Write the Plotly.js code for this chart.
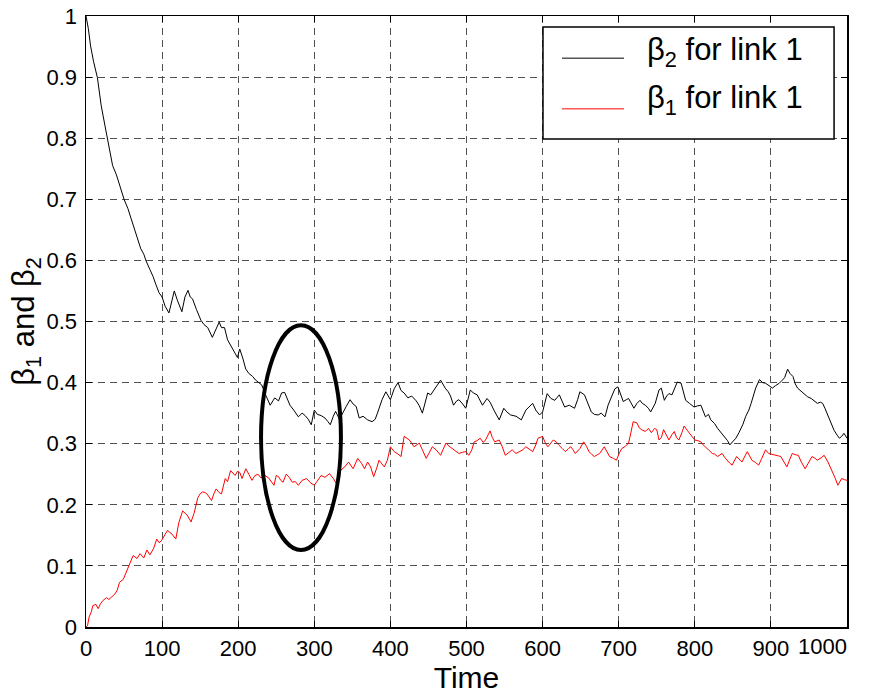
<!DOCTYPE html>
<html>
<head>
<meta charset="utf-8">
<script src="https://cdn.plot.ly/plotly-3.0.1.min.js"></script>
<style>html,body{margin:0;padding:0;background:#fff;}#chart{width:873px;height:697px;}</style>
</head>
<body>
<div id="chart"></div>
<script>
// beta2 for link 1 (black)
const beta2Time = [0,3,6,10,15,20,25,28,35,40,45,50,55,61,66,72,76,79,84,88,92,96,100,104,109,113,116,120,126,130,134,137,140,145,151,155,160,166,170,175,178,182,186,190,195,199,202,206,210,214,219,223,227,231,236,242,246,248,253,257,261,265,268,273,279,284,288,292,296,300,304,309,314,318,321,325,328,333,337,342,347,351,355,359,364,370,376,380,383,389,394,400,405,410,414,418,423,428,434,438,442,446,449,453,457,461,466,472,476,479,483,487,490,495,499,505,509,514,518,521,527,531,536,540,543,549,553,558,565,572,578,582,587,591,596,600,606,611,616,622,625,629,635,642,646,649,655,660,664,668,673,677,682,686,690,695,699,703,706,710,713,717,720,724,728,731,735,739,742,748,753,756,760,763,766,770,773,777,782,785,788,793,799,804,808,814,818,821,826,830,835,839,843,846,850,854,858,863,867,871,874,877,880,885,889,893,897,902,906,911,915,918,922,925,929,932,935,940,944,948,953,957,961,965,968,971,974,979,983,987,990,993,996,1000];
const beta2Value = [1.0,0.98,0.951,0.925,0.899,0.853,0.82,0.80,0.755,0.74,0.72,0.70,0.685,0.662,0.64,0.619,0.61,0.599,0.585,0.574,0.56,0.547,0.54,0.525,0.514,0.535,0.55,0.535,0.516,0.54,0.551,0.54,0.537,0.52,0.502,0.495,0.49,0.474,0.485,0.499,0.49,0.49,0.47,0.46,0.45,0.441,0.455,0.44,0.422,0.415,0.41,0.404,0.40,0.396,0.38,0.363,0.371,0.375,0.37,0.383,0.384,0.372,0.363,0.355,0.344,0.35,0.346,0.34,0.331,0.355,0.348,0.346,0.342,0.336,0.331,0.345,0.353,0.34,0.35,0.361,0.372,0.365,0.361,0.342,0.345,0.339,0.336,0.34,0.35,0.372,0.385,0.372,0.39,0.40,0.387,0.383,0.375,0.378,0.37,0.362,0.35,0.368,0.383,0.38,0.388,0.395,0.404,0.391,0.385,0.378,0.363,0.37,0.372,0.365,0.358,0.388,0.383,0.38,0.37,0.363,0.374,0.368,0.355,0.345,0.339,0.358,0.352,0.347,0.345,0.339,0.355,0.36,0.366,0.355,0.347,0.352,0.382,0.374,0.371,0.38,0.37,0.36,0.363,0.358,0.372,0.385,0.38,0.365,0.352,0.348,0.347,0.35,0.344,0.363,0.375,0.39,0.393,0.38,0.369,0.372,0.374,0.365,0.358,0.366,0.371,0.366,0.363,0.358,0.352,0.366,0.388,0.391,0.371,0.378,0.382,0.38,0.39,0.401,0.399,0.385,0.371,0.366,0.36,0.362,0.363,0.344,0.348,0.339,0.333,0.325,0.318,0.311,0.305,0.298,0.304,0.309,0.318,0.331,0.345,0.355,0.366,0.38,0.391,0.405,0.40,0.399,0.396,0.391,0.395,0.399,0.404,0.408,0.422,0.415,0.41,0.398,0.391,0.386,0.382,0.377,0.374,0.37,0.366,0.368,0.366,0.358,0.349,0.335,0.322,0.314,0.309,0.312,0.317,0.309];

// beta1 for link 1 (red)
const beta1Time = [0,2,4,7,9,13,16,19,22,27,30,33,38,41,44,49,53,58,62,67,71,76,80,84,89,93,96,99,103,107,110,113,118,122,127,130,133,138,142,147,150,153,157,160,165,168,171,175,178,183,186,190,193,196,199,202,205,210,214,218,222,226,230,235,240,244,247,250,253,256,259,263,267,271,275,279,284,290,295,300,305,309,314,320,325,329,335,340,345,351,357,362,366,370,374,378,382,385,392,396,400,405,410,414,418,422,425,431,438,442,447,451,455,460,466,469,473,477,481,486,490,495,499,503,507,510,514,518,522,525,531,534,537,543,547,551,556,560,565,569,574,578,583,587,591,594,600,604,607,611,614,618,621,626,630,634,637,640,643,649,654,658,661,665,668,672,675,681,685,688,693,697,701,704,709,713,716,719,724,727,730,735,739,743,747,750,753,756,759,763,766,770,773,776,779,783,786,790,793,797,800,804,808,811,814,818,823,826,830,833,836,839,842,846,849,852,855,858,862,866,869,872,875,880,884,888,893,897,902,906,910,913,917,921,925,928,932,936,940,945,949,954,958,961,966,970,975,980,984,988,991,993,997,1000];
const beta1Value = [0,0.002,0.016,0.025,0.035,0.037,0.03,0.038,0.043,0.048,0.045,0.048,0.054,0.06,0.073,0.078,0.09,0.106,0.117,0.112,0.12,0.113,0.126,0.118,0.129,0.144,0.138,0.141,0.15,0.158,0.155,0.152,0.144,0.171,0.19,0.186,0.183,0.172,0.186,0.212,0.218,0.221,0.22,0.216,0.207,0.218,0.226,0.22,0.218,0.243,0.238,0.256,0.252,0.248,0.255,0.253,0.243,0.259,0.25,0.24,0.248,0.25,0.244,0.248,0.244,0.237,0.232,0.248,0.246,0.24,0.237,0.25,0.245,0.237,0.238,0.232,0.24,0.243,0.236,0.232,0.24,0.248,0.245,0.251,0.243,0.235,0.257,0.262,0.27,0.259,0.276,0.268,0.259,0.27,0.262,0.246,0.26,0.273,0.262,0.273,0.295,0.287,0.283,0.279,0.312,0.308,0.306,0.295,0.301,0.29,0.276,0.285,0.295,0.29,0.281,0.29,0.301,0.296,0.292,0.288,0.284,0.286,0.287,0.281,0.29,0.303,0.305,0.309,0.302,0.306,0.321,0.31,0.303,0.306,0.295,0.281,0.286,0.29,0.284,0.287,0.29,0.295,0.29,0.287,0.298,0.309,0.312,0.3,0.295,0.302,0.306,0.303,0.298,0.292,0.287,0.292,0.295,0.29,0.284,0.292,0.303,0.295,0.287,0.282,0.279,0.282,0.284,0.295,0.287,0.279,0.276,0.273,0.285,0.292,0.296,0.301,0.318,0.336,0.334,0.326,0.323,0.32,0.325,0.318,0.325,0.323,0.306,0.31,0.323,0.312,0.306,0.315,0.32,0.31,0.306,0.318,0.329,0.322,0.317,0.31,0.306,0.305,0.303,0.298,0.295,0.29,0.284,0.283,0.279,0.282,0.284,0.278,0.273,0.268,0.265,0.272,0.279,0.275,0.27,0.28,0.287,0.28,0.273,0.269,0.265,0.276,0.29,0.284,0.282,0.281,0.28,0.279,0.27,0.262,0.275,0.284,0.282,0.281,0.27,0.259,0.268,0.279,0.276,0.273,0.277,0.281,0.27,0.257,0.245,0.232,0.238,0.243,0.241,0.24];

const seriesNames = ['β<sub>2</sub> for link 1', 'β<sub>1</sub> for link 1'];
const seriesColors = ['#000000', '#ff0000'];
const xTicks = [0,100,200,300,400,500,600,700,800,900,1000];
const xTickText = ['0','100','200','300','400','500','600','700','800','900',''];
const lastXTick = '1000';
const yTicks = [0,0.1,0.2,0.3,0.4,0.5,0.6,0.7,0.8,0.9,1];
const yTickText = ['0','0.1','0.2','0.3','0.4','0.5','0.6','0.7','0.8','0.9','1'];

const FONT = 'Arial, "Liberation Sans", sans-serif';

const traces = [
  {x: beta2Time, y: beta2Value, type: 'scatter', mode: 'lines', name: seriesNames[0],
   line: {color: seriesColors[0], width: 1}, showlegend: false},
  {x: beta1Time, y: beta1Value, type: 'scatter', mode: 'lines', name: seriesNames[1],
   line: {color: seriesColors[1], width: 1}, showlegend: false}
];

const axisCommon = {
  showline: true, linecolor: '#000', linewidth: 1.5, mirror: 'ticks',
  ticks: 'inside', ticklen: 6, tickcolor: '#000', tickwidth: 1,
  showgrid: true, gridcolor: '#505050', gridwidth: 1, griddash: '7px,5px',
  zeroline: false, tickfont: {family: FONT, size: 22, color: '#000'}
};

// custom legend (box, sample lines, labels) in paper coordinates
const legendBox = {x0: 0.6005, x1: 0.983, y0: 0.7987, y1: 0.982};
const legendLineRows = [0.931, 0.848];
const legendTextRows = [0.941, 0.862];
const legendLineX = [0.6255, 0.707];
const legendTextX = 0.7346;

const shapes = [
  {type: 'circle', xref: 'x', yref: 'y', x0: 230, x1: 335, y0: 0.126, y1: 0.494,
   line: {color: '#000', width: 4}, fillcolor: 'rgba(0,0,0,0)'},
  {type: 'rect', xref: 'paper', yref: 'paper', x0: legendBox.x0, x1: legendBox.x1,
   y0: legendBox.y0, y1: legendBox.y1, line: {color: '#000', width: 1.5}, fillcolor: '#fff', layer: 'above'}
];
const annotations = [
  {xref: 'x', yref: 'paper', x: 1000, y: 0, xanchor: 'right', yanchor: 'top', xshift: 2, yshift: -5,
   text: lastXTick, showarrow: false, font: {family: FONT, size: 22, color: '#000'}}
];
seriesNames.forEach((nm, i) => {
  shapes.push({type: 'line', xref: 'paper', yref: 'paper', x0: legendLineX[0], x1: legendLineX[1],
    y0: legendLineRows[i], y1: legendLineRows[i], line: {color: seriesColors[i], width: 1}, layer: 'above'});
  annotations.push({xref: 'paper', yref: 'paper', x: legendTextX, y: legendTextRows[i],
    xanchor: 'left', yanchor: 'middle', text: nm, showarrow: false,
    font: {family: FONT, size: 31, color: '#000'}});
});

const layout = {
  width: 873, height: 697,
  margin: {l: 86, r: 26, t: 16, b: 70},
  paper_bgcolor: '#fff', plot_bgcolor: '#fff',
  showlegend: false,
  xaxis: Object.assign({}, axisCommon, {
    range: [0, 1000], tickvals: xTicks, ticktext: xTickText,
    ticklabelstandoff: 1,
    title: {text: 'Time', font: {family: FONT, size: 30, color: '#000'}, standoff: 4}
  }),
  yaxis: Object.assign({}, axisCommon, {
    range: [0, 1], tickvals: yTicks, ticktext: yTickText,
    ticklabelstandoff: 3,
    title: {text: 'β<sub>1</sub> and β<sub>2</sub>', font: {family: FONT, size: 31, color: '#000'}, standoff: 2}
  }),
  shapes: shapes,
  annotations: annotations
};

Plotly.newPlot('chart', traces, layout, {displayModeBar: false, staticPlot: true});
</script>
</body>
</html>
